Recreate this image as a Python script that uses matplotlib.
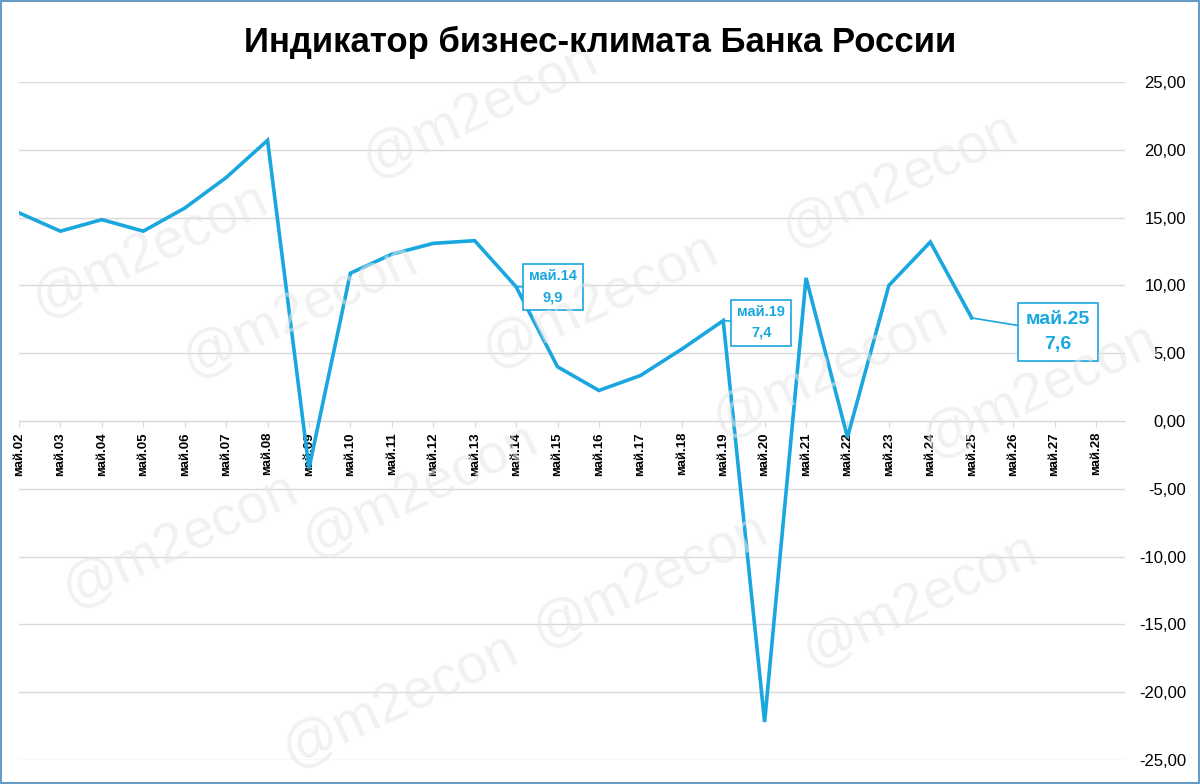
import matplotlib
matplotlib.use('Agg')
import matplotlib.pyplot as plt
from matplotlib.patches import Rectangle
from matplotlib.ticker import FuncFormatter

# data (business climate indicator, May of each year)
years = ['%02d' % y for y in range(2, 29)]
labels = ['май.' + y for y in years]
values = [15.35, 14.0, 14.85, 14.0, 15.7, 17.95, 20.7, -3.5, 10.9, 12.3,
          13.1, 13.3, 9.9, 4.0, 2.25, 3.35, 5.3, 7.4, -22.2, 10.55,
          -1.2, 10.0, 13.2, 7.6]
callouts = [(12, 'май.14\n9,9'), (17, 'май.19\n7,4'), (23, 'май.25\n7,6')]

BLUE = '#1aa7e0'
GRID = '#d9d9d9'

plt.rcParams['font.family'] = ['Liberation Sans', 'DejaVu Sans']

fig = plt.figure(figsize=(12, 7.84), dpi=100)
ax = fig.add_axes([19 / 1200, 1 - 760 / 784, (1125 - 19) / 1200, (760 - 82) / 784])

# watermarks
marks = [(480, 110), (900, 180), (150, 250), (300, 310), (600, 300), (830, 370),
         (1040, 390), (180, 540), (420, 490), (650, 580), (920, 600), (400, 700)]
for mx, my in marks:
    fig.text(mx / 1200, 1 - my / 784, '@m2econ', fontsize=40, color='#e6e6e6',
             alpha=0.55, rotation=25, ha='center', va='center', zorder=0)

ax.set_facecolor('none')
x = list(range(len(values)))
ax.plot(x, values, color=BLUE, lw=2.6, solid_joinstyle='miter', zorder=3)

ax.spines['bottom'].set_position(('data', 0))
ax.spines['bottom'].set_color(GRID)
for s in ['top', 'left', 'right']:
    ax.spines[s].set_visible(False)

ax.set_xlim(0, 26.7)
ax.set_ylim(-25, 25)
ax.set_yticks(range(-25, 30, 5))
ax.yaxis.set_major_formatter(FuncFormatter(lambda v, p: ('%.2f' % v).replace('.', ',')))
ax.yaxis.tick_right()
ax.tick_params(axis='y', length=0, pad=44, labelsize=12)
for t in ax.get_yticklabels():
    t.set_ha('right')
ax.grid(axis='y', color=GRID, lw=1)
ax.set_axisbelow(True)

ax.set_xticks(range(len(labels)))
ax.set_xticklabels(labels, rotation=90, fontsize=9.5, fontweight='bold')
ax.tick_params(axis='x', length=4, color=GRID, pad=4)

# callouts
offsets = {12: (37, 0), 17: (38, -2), 23: (86, -14)}
sizes = {12: 10.5, 17: 10.5, 23: 14}
for i, txt in callouts:
    dx, dy = offsets[i]
    ax.annotate(txt, xy=(i, values[i]), xytext=(dx, dy), textcoords='offset pixels',
                ha='center', va='center', color=BLUE, fontsize=sizes[i],
                fontweight='bold', linespacing=1.6,
                bbox=dict(boxstyle='square,pad=0.4', fc='white', ec=BLUE, lw=1.2),
                arrowprops=dict(arrowstyle='-', color=BLUE, lw=1.2,
                                shrinkA=0, shrinkB=0), zorder=5)

fig.text(0.5, 1 - 42 / 784, 'Индикатор бизнес-климата Банка России',
         ha='center', va='center', fontsize=25, fontweight='bold')

fig.patches.append(Rectangle((0.001, 0.001), 0.998, 0.998, transform=fig.transFigure,
                             fill=False, ec='#6a9cc4', lw=1.5))

fig.savefig('out.png', dpi=100)
